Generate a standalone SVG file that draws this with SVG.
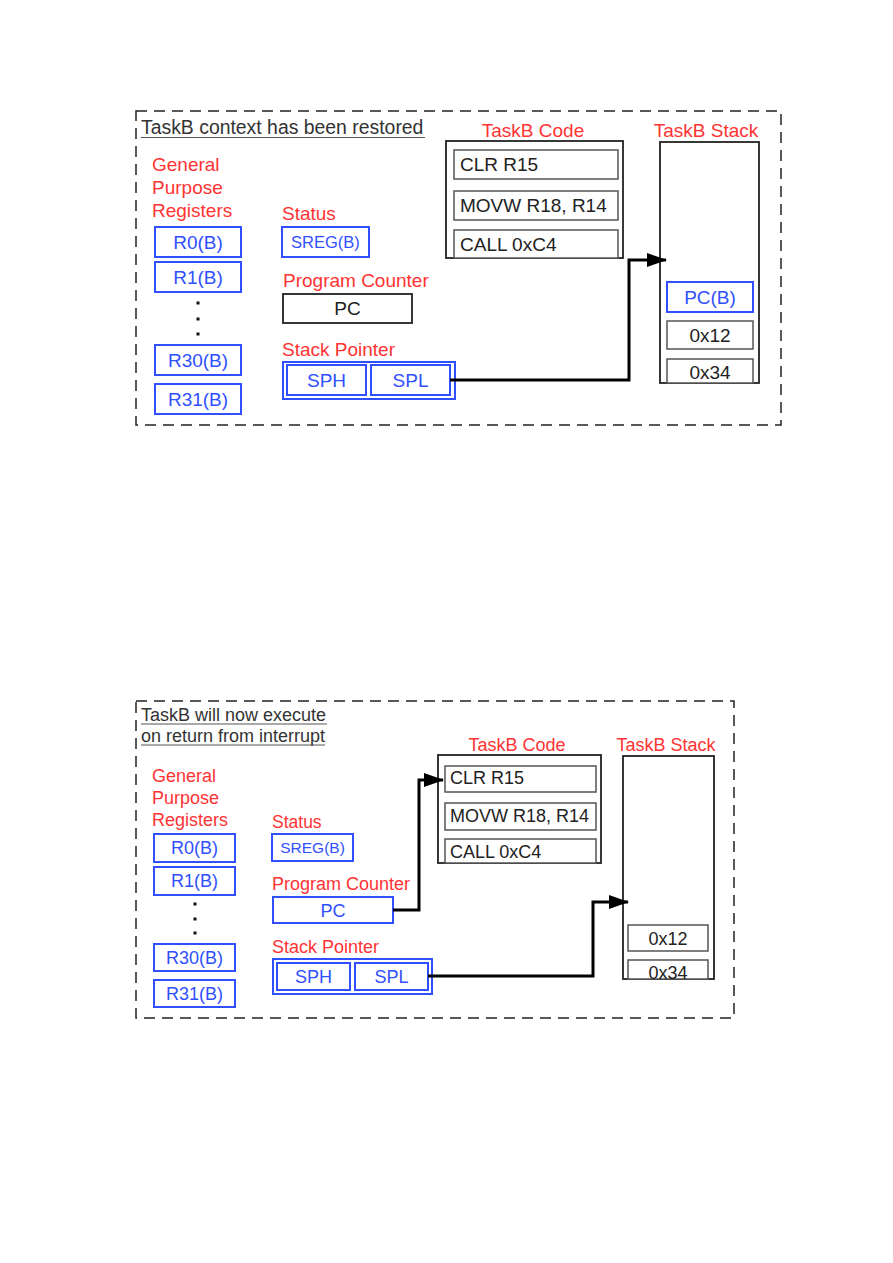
<svg xmlns="http://www.w3.org/2000/svg" width="893" height="1263" viewBox="0 0 893 1263">
<style>
text{font-family:"Liberation Sans",Arial,sans-serif}
.frame{fill:none;stroke:#222;stroke-width:1.5;stroke-dasharray:11 7}
.title{fill:#333}
.ul{stroke:#555;stroke-width:1.2}
.lbl{fill:#ff3333}
.breg{fill:#fff;stroke:#3050ff;stroke-width:2}
.btxt{fill:#3050ff;text-anchor:middle}
.kbox{fill:#fff;stroke:#222;stroke-width:1.8}
.gbox{fill:#fff;stroke:#555;stroke-width:1.5}
.ktxt{fill:#222}
.c{text-anchor:middle}
.conn{fill:none;stroke:#000;stroke-width:3}
.dot{fill:#111}
</style>
<defs>
<marker id="arr" viewBox="0 0 20 14" refX="19" refY="7" markerWidth="20" markerHeight="14" markerUnits="userSpaceOnUse" orient="auto">
<path d="M0,0 L20,7 L0,14 z" fill="#000"/>
</marker>
</defs>

<!-- ================= TOP DIAGRAM ================= -->
<g id="top-frame">
<rect class="frame" x="136" y="111" width="645" height="314"/>
<text class="title" x="141" y="134" font-size="19.4">TaskB context has been restored</text>
<line class="ul" x1="141" y1="137.5" x2="425" y2="137.5"/>
</g>
<g id="top-gpr">
<text class="lbl" x="152" y="171" font-size="19">General</text>
<text class="lbl" x="152" y="194" font-size="19">Purpose</text>
<text class="lbl" x="152" y="217" font-size="19">Registers</text>
</g>
<g id="top-r0"><rect class="breg" x="155" y="227" width="86" height="30"/><text class="btxt" x="198" y="248.5" font-size="19">R0(B)</text></g>
<g id="top-r1"><rect class="breg" x="155" y="262" width="86" height="30"/><text class="btxt" x="198" y="283.5" font-size="19">R1(B)</text></g>
<g id="top-dots"><rect class="dot" x="196.5" y="301.5" width="3" height="3"/><rect class="dot" x="196.5" y="317.5" width="3" height="3"/><rect class="dot" x="196.5" y="332.5" width="3" height="3"/></g>
<g id="top-r30"><rect class="breg" x="155" y="345" width="86" height="30"/><text class="btxt" x="198" y="366.5" font-size="19">R30(B)</text></g>
<g id="top-r31"><rect class="breg" x="155" y="384" width="86" height="30"/><text class="btxt" x="198" y="405.5" font-size="19">R31(B)</text></g>
<g id="top-status">
<text class="lbl" x="282" y="220" font-size="19">Status</text>
<rect class="breg" x="282" y="227" width="87" height="30"/><text class="btxt" x="325.5" y="248" font-size="16.5">SREG(B)</text>
</g>
<g id="top-pc">
<text class="lbl" x="283" y="287" font-size="19">Program Counter</text>
<rect class="kbox" x="283" y="294" width="129" height="29"/><text class="ktxt c" x="347.5" y="315" font-size="19">PC</text>
</g>
<g id="top-sp">
<text class="lbl" x="282" y="356" font-size="19">Stack Pointer</text>
<rect class="breg" x="283" y="362" width="172" height="37"/>
<rect class="breg" x="287" y="365" width="79" height="30" stroke-width="1.5" stroke="#5570ff"/>
<rect class="breg" x="371" y="365" width="79" height="30" stroke-width="1.5" stroke="#5570ff"/>
<text class="btxt" x="326.5" y="387" font-size="19">SPH</text>
<text class="btxt" x="410.5" y="387" font-size="19">SPL</text>
</g>
<g id="top-code">
<text class="lbl c" x="533" y="137" font-size="19">TaskB Code</text>
<rect class="kbox" x="446" y="141" width="177" height="117"/>
<rect class="gbox" x="454" y="150" width="164" height="29"/><text class="ktxt" x="460" y="171" font-size="19">CLR R15</text>
<rect class="gbox" x="454" y="191" width="164" height="29"/><text class="ktxt" x="460" y="212" font-size="19">MOVW R18, R14</text>
<rect class="gbox" x="454" y="230" width="164" height="28"/><text class="ktxt" x="460" y="251" font-size="19">CALL 0xC4</text>
</g>
<g id="top-stack">
<text class="lbl c" x="706" y="137" font-size="19">TaskB Stack</text>
<rect class="kbox" x="660" y="142" width="99" height="241"/>
<rect class="breg" x="667" y="282" width="86" height="30" stroke="#6a80ff" stroke-width="1.5"/><text class="btxt" x="710" y="303.5" font-size="19">PC(B)</text>
<rect class="gbox" x="667" y="321" width="86" height="28"/><text class="ktxt c" x="710" y="342" font-size="19">0x12</text>
<rect class="gbox" x="667" y="359" width="86" height="24"/><text class="ktxt c" x="710" y="378.5" font-size="19">0x34</text>
</g>

<!-- ================= BOTTOM DIAGRAM ================= -->
<g id="bot-frame">
<rect class="frame" x="136" y="701" width="598" height="317"/>
<text class="title" x="141" y="721" font-size="18">TaskB will now execute</text>
<line class="ul" x1="141" y1="724" x2="327" y2="724"/>
<text class="title" x="141" y="742" font-size="18">on return from interrupt</text>
<line class="ul" x1="141" y1="745" x2="325" y2="745"/>
</g>
<g id="bot-gpr">
<text class="lbl" x="152" y="782" font-size="18">General</text>
<text class="lbl" x="152" y="804" font-size="18">Purpose</text>
<text class="lbl" x="152" y="826" font-size="18">Registers</text>
</g>
<g id="bot-r0"><rect class="breg" x="154" y="834" width="81" height="28"/><text class="btxt" x="194.5" y="854" font-size="18">R0(B)</text></g>
<g id="bot-r1"><rect class="breg" x="154" y="867" width="81" height="28"/><text class="btxt" x="194.5" y="887" font-size="18">R1(B)</text></g>
<g id="bot-dots"><rect class="dot" x="193.5" y="902.5" width="3" height="3"/><rect class="dot" x="193.5" y="917.5" width="3" height="3"/><rect class="dot" x="193.5" y="931.5" width="3" height="3"/></g>
<g id="bot-r30"><rect class="breg" x="154" y="944" width="81" height="27"/><text class="btxt" x="194.5" y="964" font-size="18">R30(B)</text></g>
<g id="bot-r31"><rect class="breg" x="154" y="980" width="81" height="27"/><text class="btxt" x="194.5" y="1000" font-size="18">R31(B)</text></g>
<g id="bot-status">
<text class="lbl" x="272" y="828" font-size="17.5">Status</text>
<rect class="breg" x="272" y="834" width="81" height="27"/><text class="btxt" x="312.5" y="853" font-size="15.5">SREG(B)</text>
</g>
<g id="bot-pc">
<text class="lbl" x="272" y="890" font-size="18">Program Counter</text>
<rect class="breg" x="273" y="897" width="120" height="26"/><text class="btxt" x="333" y="916.5" font-size="18">PC</text>
</g>
<g id="bot-sp">
<text class="lbl" x="272" y="953" font-size="18">Stack Pointer</text>
<rect class="breg" x="273" y="959" width="159" height="35"/>
<rect class="breg" x="277" y="963" width="73" height="27" stroke-width="1.5" stroke="#5570ff"/>
<rect class="breg" x="355" y="963" width="73" height="27" stroke-width="1.5" stroke="#5570ff"/>
<text class="btxt" x="313.5" y="983" font-size="18">SPH</text>
<text class="btxt" x="391.5" y="983" font-size="18">SPL</text>
</g>
<g id="bot-code">
<text class="lbl c" x="517" y="751" font-size="18">TaskB Code</text>
<rect class="kbox" x="438" y="755" width="163" height="108"/>
<rect class="gbox" x="445" y="766" width="151" height="26"/><text class="ktxt" x="450" y="784" font-size="18">CLR R15</text>
<rect class="gbox" x="445" y="803" width="151" height="27"/><text class="ktxt" x="450" y="822" font-size="18">MOVW R18, R14</text>
<rect class="gbox" x="445" y="839" width="151" height="24"/><text class="ktxt" x="450" y="858" font-size="18">CALL 0xC4</text>
</g>
<g id="bot-stack">
<text class="lbl c" x="666" y="751" font-size="18">TaskB Stack</text>
<rect class="kbox" x="623" y="756" width="91" height="223"/>
<rect class="gbox" x="628" y="925" width="80" height="26"/><text class="ktxt c" x="668" y="945" font-size="18">0x12</text>
<rect class="gbox" x="628" y="960" width="80" height="19"/><text class="ktxt c" x="668" y="978.5" font-size="18">0x34</text>
</g>

<!-- ================= CONNECTORS ================= -->
<g id="connectors">
<path class="conn" d="M450,380 H629 V260 H666" marker-end="url(#arr)"/>
<path class="conn" d="M393,910 H419 V780 H443" marker-end="url(#arr)"/>
<path class="conn" d="M428,976 H593 V902 H628" marker-end="url(#arr)"/>
</g>
</svg>
